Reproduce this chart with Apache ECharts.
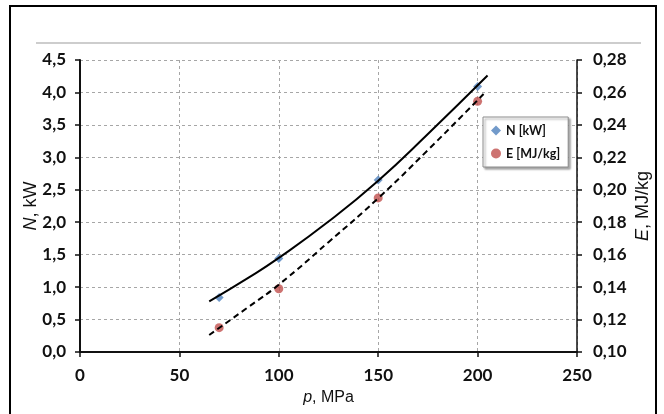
<!DOCTYPE html>
<html><head><meta charset="utf-8">
<script src="https://cdn.jsdelivr.net/npm/echarts@6/dist/echarts.min.js"></script>
<style>html,body{margin:0;padding:0;background:#fff}#c{width:664px;height:414px}</style>
</head><body><div id="c"></div>
<script>
// Measured points
var pressure = [70, 100, 150, 200];
var powerN = [0.84, 1.44, 2.65, 4.09];
var energyE = [0.115, 0.139, 0.195, 0.2545];
// Trend lines
var trendNx = [65, 85, 100, 125, 150, 175, 205];
var trendNy = [0.78, 1.15, 1.45, 2.01, 2.64, 3.36, 4.26];
var trendEx = [65, 85, 100, 125, 150, 175, 203];
var trendEy = [0.1105, 0.128, 0.1415, 0.1677, 0.1948, 0.2245, 0.259];
var xTicks = [0, 50, 100, 150, 200, 250];

function zip(a, b) { return a.map(function (v, i) { return [v, b[i]]; }); }

var chart = echarts.init(document.getElementById('c'), null, {renderer: 'canvas'});
var lblFont = {fontFamily: 'Lato', fontWeight: 'bold', fontSize: 17, color: '#111'};
var xNameFont = {fontFamily: 'Liberation Sans', fontSize: 16, color: '#111'};
var yNameFont = {fontFamily: 'Liberation Sans', fontSize: 18, fill: '#111'};
function nameStyle(f) { return Object.assign({}, f, {rich: {i: Object.assign({}, f, {fontStyle: 'italic'}), r: f}}); }
function yName(txt, cx, cy) {
  return {type: 'text', x: cx, y: cy, rotation: Math.PI / 2, z: 50,
    style: Object.assign({text: txt, align: 'center', verticalAlign: 'middle'}, yNameFont,
      {rich: {i: Object.assign({}, yNameFont, {fontStyle: 'italic'}), r: yNameFont}})};
}
chart.setOption({
  backgroundColor: '#fff',
  animation: false,
  graphic: [
    {type: 'rect', shape: {x: 10, y: 6, width: 646, height: 430}, style: {fill: 'none', stroke: '#000', lineWidth: 2}, z: 100},
    {type: 'line', shape: {x1: 36, y1: 43, x2: 641, y2: 43}, style: {stroke: '#bdbdbd', lineWidth: 1.5}},
    yName('{i|N}{r|, kW}', 31, 206),
    yName('{i|E}{r|, MJ/kg}', 643, 206)
  ],
  grid: {left: 80, right: 87, top: 60, bottom: 62, containLabel: false, outerBoundsMode: 'none'},
  legend: {
    orient: 'vertical', left: 483, top: 117, padding: [7, 8, 7, 8], itemGap: 10,
    itemWidth: 10, itemHeight: 10,
    backgroundColor: '#fff', borderColor: '#8c8c8c', borderWidth: 1,
    shadowColor: 'rgba(0,0,0,0.35)', shadowOffsetX: 2, shadowOffsetY: 2, shadowBlur: 2,
    textStyle: {fontFamily: 'Lato', fontWeight: 'bold', fontSize: 12.5, color: '#111'},
    data: [{name: 'N [kW]', icon: 'diamond'}, {name: 'E [MJ/kg]', icon: 'circle'}]
  },
  xAxis: {
    type: 'value', min: xTicks[0], max: xTicks[xTicks.length - 1], interval: 50,
    name: '{i|p}{r|, MPa}', nameLocation: 'middle', nameGap: 38,
    nameTextStyle: nameStyle(xNameFont),
    axisLine: {onZero: false, lineStyle: {color: '#111', width: 2}},
    axisTick: {show: true, length: 5, lineStyle: {color: '#111', width: 1.5}},
    axisLabel: Object.assign({margin: 15}, lblFont),
    splitLine: {show: true, lineStyle: {color: '#a6a6a6', type: [3, 3], width: 1}}
  },
  yAxis: [{
    type: 'value', min: 0, max: 4.5, interval: 0.5, position: 'left',
    axisLine: {show: true, lineStyle: {color: '#111', width: 2}},
    axisTick: {show: true, length: 5, lineStyle: {color: '#111', width: 1.5}},
    axisLabel: Object.assign({margin: 14, formatter: function (v) { return v.toFixed(1).replace('.', ','); }}, lblFont),
    splitLine: {show: true, lineStyle: {color: '#a6a6a6', type: [3, 3], width: 1}}
  }, {
    type: 'value', min: 0.10, max: 0.28, interval: 0.02, position: 'right',
    axisLine: {show: true, lineStyle: {color: '#111', width: 1.5}},
    axisTick: {show: true, length: 5, lineStyle: {color: '#111', width: 1.5}},
    axisLabel: Object.assign({margin: 16, formatter: function (v) { return v.toFixed(2).replace('.', ','); }}, lblFont),
    splitLine: {show: false}
  }],
  series: [
    {name: 'trendN', type: 'line', yAxisIndex: 0, data: zip(trendNx, trendNy), smooth: true, showSymbol: false, silent: true,
     lineStyle: {color: '#000', width: 2}, z: 3},
    {name: 'trendE', type: 'line', yAxisIndex: 1, data: zip(trendEx, trendEy), smooth: true, showSymbol: false, silent: true,
     lineStyle: {color: '#000', width: 2, type: [6, 4]}, z: 3},
    {name: 'N [kW]', type: 'scatter', yAxisIndex: 0, data: zip(pressure, powerN), symbol: 'diamond', symbolSize: 9,
     itemStyle: {color: '#4F81BD'}, z: 2},
    {name: 'E [MJ/kg]', type: 'scatter', yAxisIndex: 1, data: zip(pressure, energyE), symbol: 'circle', symbolSize: 9,
     itemStyle: {color: '#C0504D'}, z: 2}
  ]
});
</script></body></html>
